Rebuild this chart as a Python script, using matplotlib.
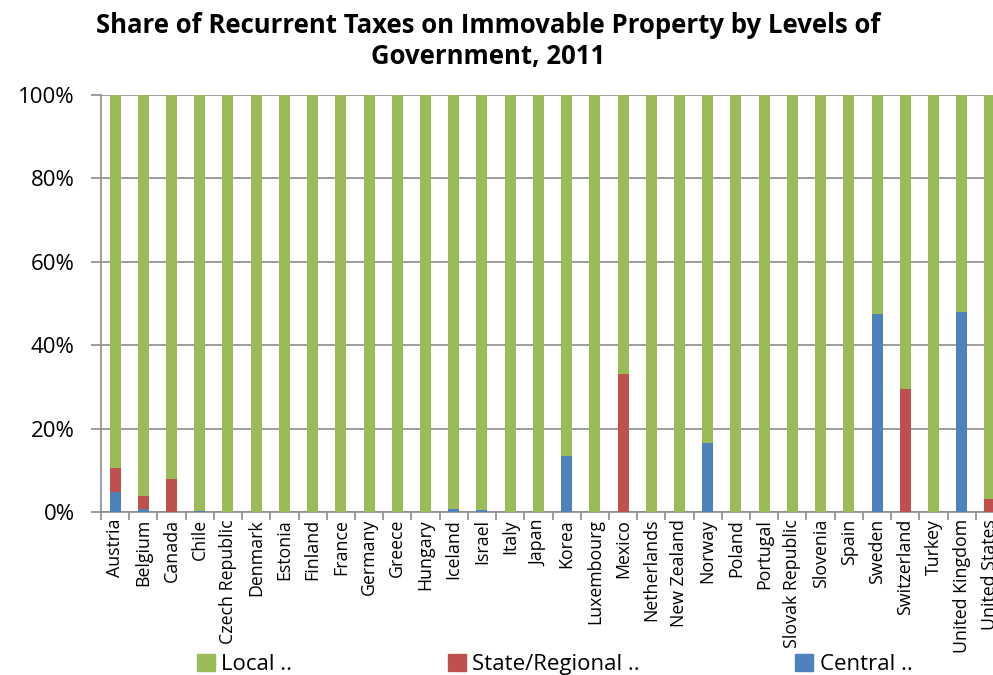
import numpy as np
import matplotlib.pyplot as plt
from matplotlib.patches import Patch

plt.rcParams['font.family'] = ['Open Sans', 'DejaVu Sans']

countries = ["Austria", "Belgium", "Canada", "Chile", "Czech Republic", "Denmark",
             "Estonia", "Finland", "France", "Germany", "Greece", "Hungary",
             "Iceland", "Israel", "Italy", "Japan", "Korea", "Luxembourg",
             "Mexico", "Netherlands", "New Zealand", "Norway", "Poland",
             "Portugal", "Slovak Republic", "Slovenia", "Spain", "Sweden",
             "Switzerland", "Turkey", "United Kingdom", "United States"]

# shares in percent
central = [4.8, 0.8, 0, 0.3, 0, 0, 0, 0, 0, 0, 0, 0,
           0.6, 0.4, 0, 0, 13.5, 0, 0, 0, 0, 16.5, 0, 0,
           0, 0, 0, 47.6, 0, 0, 48.0, 0]
state = [5.8, 3.0, 7.9, 0, 0, 0, 0, 0, 0, 0, 0, 0,
         0, 0, 0, 0, 0, 0, 33.1, 0, 0, 0, 0, 0,
         0, 0, 0, 0, 29.6, 0, 0, 3.0]

central = np.array(central)
state = np.array(state)
local = 100 - central - state

c_local = '#9BBB59'
c_state = '#C0504D'
c_central = '#4F81BD'

fig = plt.figure(figsize=(9.93, 6.75), dpi=100)
ax = fig.add_axes([101/993, (675-512)/675, 903/993, (512-95)/675])

x = np.arange(len(countries))
w = 0.39
ax.bar(x, central, w, color=c_central, zorder=3)
ax.bar(x, state, w, bottom=central, color=c_state, zorder=3)
ax.bar(x, local, w, bottom=central + state, color=c_local, zorder=3)

ax.set_xlim(-0.5, len(countries) - 0.5)
ax.set_ylim(0, 100)
ax.set_yticks([0, 20, 40, 60, 80, 100])
ax.set_yticklabels([f"{v}%" for v in [0, 20, 40, 60, 80, 100]], fontsize=16)
ax.yaxis.grid(True, color='#8c8c8c', linewidth=1.2, zorder=0)

ax.set_xticks(x)
ax.set_xticklabels(countries, rotation=90, fontsize=12.8)
ax.set_xticks(np.arange(len(countries) + 1) - 0.5, minor=True)
ax.tick_params(axis='x', which='major', length=0, pad=5)
ax.tick_params(axis='x', which='minor', length=6, color='#8c8c8c', width=1.2)
ax.tick_params(axis='y', length=7, color='#8c8c8c', width=1.2, pad=12)

for s in ['top', 'right']:
    ax.spines[s].set_visible(False)
for s in ['left', 'bottom']:
    ax.spines[s].set_color('#8c8c8c')
    ax.spines[s].set_linewidth(1.2)

fig.text(0.492, 0.982, "Share of Recurrent Taxes on Immovable Property by Levels of\nGovernment, 2011",
         ha='center', va='top', fontsize=18.5, fontweight='bold', linespacing=1.2)

handles = [Patch(color=c_local, label='Local ..'),
           Patch(color=c_state, label='State/Regional ..'),
           Patch(color=c_central, label='Central ..')]
fig.legend(handles=handles, loc='lower left', bbox_to_anchor=(0.178, -0.03), ncol=3,
           frameon=False, fontsize=16, handlelength=0.8, handleheight=0.75,
           handletextpad=0.3, columnspacing=7.0)

fig.savefig('out.png', dpi=100)
